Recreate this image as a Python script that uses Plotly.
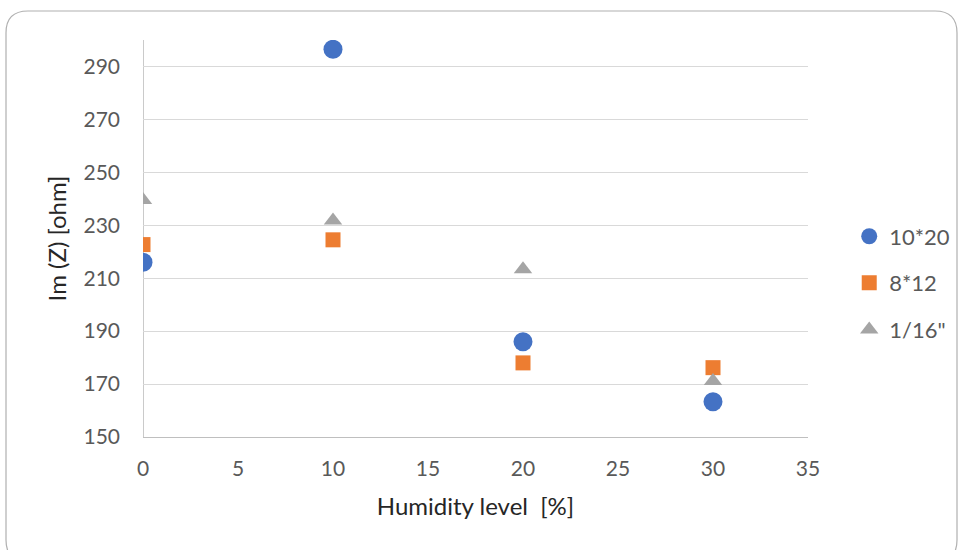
import plotly.graph_objects as go

humidity = [0, 10, 20, 30]
s_10x20 = [216, 296.5, 186, 163.3]
s_8x12 = [222.7, 224.5, 178, 176.2]
s_1_16 = [239.5, 231.8, 213.4, 171.2]

names = ["10*20", "8*12", "1/16\""]
colors = ["#4472C4", "#ED7D31", "#A5A5A5"]
symbols = ["circle", "square", "triangle-up"]
sizes = [19, 15, 16]

L, R, T, B = 143, 150, 40, 113
W, H = 958, 550
pw, ph = W - L - R, H - T - B

fig = go.Figure()
for i, (name, ys) in enumerate(zip(names, [s_10x20, s_8x12, s_1_16])):
    fig.add_trace(go.Scatter(
        x=humidity, y=ys, mode="markers", name=name, legendgroup=name,
        marker=dict(color=colors[i], symbol=symbols[i], size=sizes[i], line=dict(width=0)),
    ))

def px(x):
    return (x - L) / pw

def py(y):
    return (H - B - y) / ph

# rounded chart border
x0, x1, y0, y1, r = 6, 957, 11, 562, 22
path = (f"M {px(x0+r)},{py(y0)} L {px(x1-r)},{py(y0)} "
        f"Q {px(x1)},{py(y0)} {px(x1)},{py(y0+r)} L {px(x1)},{py(y1-r)} "
        f"Q {px(x1)},{py(y1)} {px(x1-r)},{py(y1)} L {px(x0+r)},{py(y1)} "
        f"Q {px(x0)},{py(y1)} {px(x0)},{py(y1-r)} L {px(x0)},{py(y0+r)} "
        f"Q {px(x0)},{py(y0)} {px(x0+r)},{py(y0)} Z")

fig.update_layout(
    width=W, height=H,
    margin=dict(l=L, r=R, t=T, b=B, autoexpand=False),
    paper_bgcolor="white", plot_bgcolor="white",
    font=dict(family="Lato, Open Sans, sans-serif", size=18, color="#595959"),
    shapes=[dict(type="path", path=path, xref="paper", yref="paper",
                 line=dict(color="#b0b0b0", width=1.2), layer="below")],
    xaxis=dict(range=[0, 35], tick0=0, dtick=5, showgrid=False, zeroline=False,
               showline=True, linecolor="#bfbfbf", linewidth=1, ticks="",
               ticklabelstandoff=13,
               title=dict(text="Humidity level  [%]", font=dict(size=24, color="#262626"), standoff=18),
               tickfont=dict(size=21, color="#595959")),
    yaxis=dict(range=[150, 300], tick0=150, dtick=20, showgrid=True, gridcolor="#d9d9d9",
               gridwidth=1, zeroline=False, showline=False, ticks="",
               ticklabelstandoff=22,
               title=dict(text="Im (Z) [ohm]", font=dict(size=24, color="#262626"), standoff=10),
               tickfont=dict(size=21, color="#595959")),
    legend=dict(x=1.062, y=0.388, xanchor="left", yanchor="middle",
                font=dict(size=22, color="#595959"), tracegroupgap=15,
                itemwidth=30, bgcolor="rgba(0,0,0,0)"),
    showlegend=True,
)
# vertical axis line at x=0
fig.add_shape(type="line", x0=0, x1=0, y0=0, y1=1, xref="x", yref="paper",
              line=dict(color="#a6a6a6", width=1.2), layer="below")

fig.write_html("out.html")
